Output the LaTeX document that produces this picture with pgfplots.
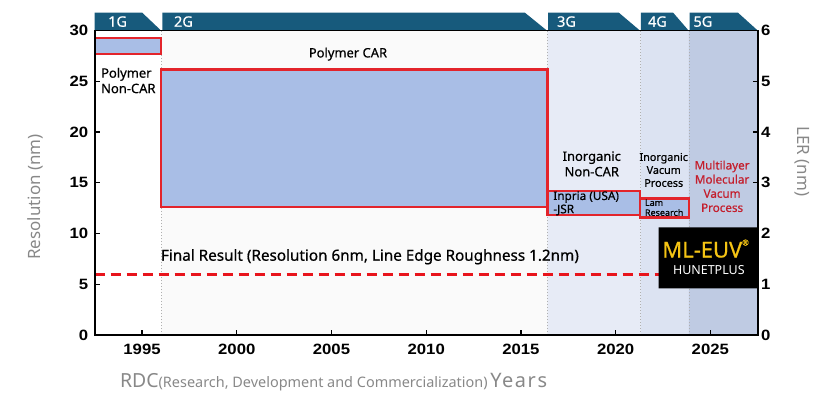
\documentclass[border=0pt]{standalone}
\usepackage{pgfplots}
\pgfplotsset{compat=1.18}
\usepackage{fontspec}
\setmainfont{Noto Sans}
\newfontfamily\medfont[FakeBold=0.6]{Noto Sans}
\newfontfamily\tickfont[FakeStretch=1.12]{Liberation Sans}
\definecolor{hdr}{HTML}{175A7C}
\definecolor{boxred}{HTML}{E3242B}
\definecolor{boxfill}{HTML}{A9BEE6}
\definecolor{bgtwo}{HTML}{FAFAFA}
\definecolor{bgthree}{HTML}{E7EBF6}
\definecolor{bgfour}{HTML}{DCE3F2}
\definecolor{bgfive}{HTML}{BFCBE3}
\definecolor{dotgray}{HTML}{B0B0B0}
\definecolor{dashred}{HTML}{E8141C}
\definecolor{txtred}{HTML}{C41E2C}
\definecolor{labgray}{HTML}{888888}
\definecolor{gold}{HTML}{F5C414}
\begin{document}
\begin{tikzpicture}
\useasboundingbox (0,0) rectangle (819bp,399bp);
\begin{axis}[
  at={(94.7bp,64bp)}, anchor=south west,
  scale only axis, width=663bp, height=304.5bp,
  xmin=1992.5, xmax=2027.5, ymin=0, ymax=30,
  clip=false, axis on top,
  axis line style={line width=1.6bp, black},
  xtick={1995,2000,...,2025}, ytick={0,5,...,30},
  xtick pos=left, ytick pos=left,
  tick align=inside, major tick length=5bp,
  tick style={line width=1.3bp, black},
  ticklabel style={font=\tickfont\bfseries\fontsize{15}{15}\selectfont},
  xticklabel style={yshift=-6bp},
  yticklabel style={xshift=-3bp},
  /pgf/number format/assume math mode=true,
  /pgf/number format/1000 sep={},
  ylabel={Resolution (nm)},
  ylabel style={at={(rel axis cs:-0.089,0.453)}, anchor=center, font=\fontsize{17}{17}\selectfont, text=labgray},
  xlabel={{\fontsize{19.5}{19.5}\selectfont RDC}{\fontsize{14.5}{14.5}\selectfont(Research, Development and Commercialization)} {\fontsize{20}{20}\selectfont\addfontfeature{LetterSpace=8}Years}},
  xlabel style={at={(rel axis cs:0.038,-0.172)}, anchor=base west, text=labgray, inner sep=0pt},
]
% backgrounds
\addplot[draw=none, fill=bgtwo] coordinates {(1996,0) (2016.4,0) (2016.4,30) (1996,30) (1996,0)};
\addplot[draw=none, fill=bgthree] coordinates {(2016.4,0) (2021.3,0) (2021.3,30) (2016.4,30) (2016.4,0)};
\addplot[draw=none, fill=bgfour] coordinates {(2021.3,0) (2023.87,0) (2023.87,30) (2021.3,30) (2021.3,0)};
\addplot[draw=none, fill=bgfive] coordinates {(2023.87,0) (2027.5,0) (2027.5,30) (2023.87,30) (2023.87,0)};
% boundaries
\addplot[dotgray, line width=0.8bp, dash pattern=on 1.2bp off 1.8bp] coordinates {(1996,0) (1996,30)};
\addplot[dotgray, line width=0.8bp, dash pattern=on 1.2bp off 1.8bp] coordinates {(2016.4,0) (2016.4,30)};
\addplot[dotgray, line width=0.8bp, dash pattern=on 1.2bp off 1.8bp] coordinates {(2021.3,0) (2021.3,30)};
\addplot[dotgray, line width=0.8bp, dash pattern=on 1.2bp off 1.8bp] coordinates {(2023.87,0) (2023.87,30)};
% resist boxes: fills
\addplot[draw=none, fill=boxfill] coordinates {(1992.5,27.7) (1996,27.7) (1996,29.3) (1992.5,29.3) (1992.5,27.7)};
\addplot[draw=none, fill=boxfill] coordinates {(1996,12.6) (2016.4,12.6) (2016.4,26.15) (1996,26.15) (1996,12.6)};
\addplot[draw=none, fill=boxfill] coordinates {(2016.4,11.8) (2021.3,11.8) (2021.3,14.16) (2016.4,14.16) (2016.4,11.8)};
\addplot[draw=none, fill=boxfill] coordinates {(2021.3,11.57) (2023.87,11.57) (2023.87,13.44) (2021.3,13.44) (2021.3,11.57)};
% final result
\addplot[dashred, line width=3bp, dash pattern=on 10bp off 6bp] coordinates {(1992.5,6) (2022.27,6)};
\addplot[draw=none, fill=black] coordinates {(2022.27,4.6) (2027.5,4.6) (2027.5,10.6) (2022.27,10.6) (2022.27,4.6)};
% header tabs
\addplot[draw=none, fill=hdr] coordinates {(1992.5,30) (1992.5,31.77) (1995.0,31.77) (1996.0,30) (1992.5,30)};
\addplot[draw=none, fill=hdr] coordinates {(1996.07,30) (1996.07,31.77) (2015.2,31.77) (2016.37,30) (1996.07,30)};
\addplot[draw=none, fill=hdr] coordinates {(2016.43,30) (2016.43,31.77) (2020.16,31.77) (2021.28,30) (2016.43,30)};
\addplot[draw=none, fill=hdr] coordinates {(2021.33,30) (2021.33,31.77) (2023.03,31.77) (2023.85,30) (2021.33,30)};
\addplot[draw=none, fill=hdr] coordinates {(2023.9,30) (2023.9,31.77) (2026.45,31.77) (2027.5,30) (2023.9,30)};
% resist boxes: outlines
\addplot[boxred, line width=2.2bp, line cap=rect] coordinates {(1992.5,27.7) (1996,27.7)};
\addplot[boxred, line width=2.2bp, line cap=rect] coordinates {(1996,27.7) (1996,29.3)};
\addplot[boxred, line width=2.2bp, line cap=rect] coordinates {(1996,29.3) (1992.5,29.3)};
\addplot[boxred, line width=2.2bp, line cap=rect] coordinates {(1996,12.6) (2016.4,12.6)};
\addplot[boxred, line width=2.2bp, line cap=rect] coordinates {(2016.4,12.6) (2016.4,26.15)};
\addplot[boxred, line width=2.2bp, line cap=rect] coordinates {(2016.4,26.15) (1996,26.15)};
\addplot[boxred, line width=2.2bp, line cap=rect] coordinates {(1996,26.15) (1996,12.6)};
\addplot[boxred, line width=2.2bp, line cap=rect] coordinates {(2016.4,11.8) (2021.3,11.8)};
\addplot[boxred, line width=2.2bp, line cap=rect] coordinates {(2021.3,11.8) (2021.3,14.16)};
\addplot[boxred, line width=2.2bp, line cap=rect] coordinates {(2021.3,14.16) (2016.4,14.16)};
\addplot[boxred, line width=2.2bp, line cap=rect] coordinates {(2016.4,14.16) (2016.4,11.8)};
\addplot[boxred, line width=2.2bp, line cap=rect] coordinates {(2021.3,11.57) (2023.87,11.57)};
\addplot[boxred, line width=2.2bp, line cap=rect] coordinates {(2023.87,11.57) (2023.87,13.44)};
\addplot[boxred, line width=2.2bp, line cap=rect] coordinates {(2023.87,13.44) (2021.3,13.44)};
\addplot[boxred, line width=2.2bp, line cap=rect] coordinates {(2021.3,13.44) (2021.3,11.57)};
\begin{scope}[every node/.style={inner sep=0pt, text=white, anchor=west, font=\medfont\fontsize{14.5}{14.5}\selectfont}]
\node at (axis cs:1993.2,30.88) {1G};
\node at (axis cs:1996.68,30.88) {2G};
\node at (axis cs:2016.9,30.88) {3G};
\node at (axis cs:2021.7,30.88) {4G};
\node at (axis cs:2024.1,30.88) {5G};
\end{scope}
% texts
\node[inner sep=0pt, font=\medfont\fontsize{13}{13}\selectfont] at (axis cs:2005.87,27.68) {Polymer CAR};
\node[inner sep=0pt, anchor=west, align=left, font=\medfont\fontsize{13}{15.5}\selectfont] at (axis cs:1992.83,25.07) {Polymer\\Non-CAR};
\node[inner sep=0pt, font=\medfont\fontsize{15.3}{15.3}\selectfont] at (axis cs:2007.03,7.71) {Final Result (Resolution 6nm, Line Edge Roughness 1.2nm)};
\node[inner sep=0pt, align=center, font=\medfont\fontsize{13}{15.5}\selectfont] at (axis cs:2018.74,16.86) {Inorganic\\Non-CAR};
\node[inner sep=0pt, anchor=west, align=left, font=\medfont\fontsize{11.8}{13.3}\selectfont] at (axis cs:2016.7,12.97) {Inpria (USA)\\-JSR};
\node[inner sep=0pt, align=center, font=\medfont\fontsize{10.8}{13}\selectfont] at (axis cs:2022.54,16.26) {Inorganic\\Vacum\\Process};
\node[inner sep=0pt, anchor=west, align=left, font=\medfont\fontsize{9}{10}\selectfont] at (axis cs:2021.54,12.54) {Lam\\Research};
\node[inner sep=0pt, align=center, text=txtred, font=\medfont\fontsize{11.7}{14.2}\selectfont] at (axis cs:2025.62,14.65) {Multilayer\\Molecular\\Vacum\\Process};
\node[inner sep=0pt, text=gold, font=\medfont\fontsize{22}{22}\selectfont] at (axis cs:2024.75,8.5) {ML-EUV\raisebox{0.55em}{\fontsize{8}{8}\selectfont\textregistered}};
\node[inner sep=0pt, text=white, font=\bfseries\fontsize{12.5}{12.5}\selectfont] at (axis cs:2024.92,6.4) {HUNETPLUS};
\end{axis}
\begin{axis}[
  at={(94.7bp,64bp)}, anchor=south west,
  scale only axis, width=663bp, height=304.5bp,
  xmin=1992.5, xmax=2027.5, ymin=0, ymax=6,
  axis y line*=right, axis x line=none,
  axis line style={line width=1.6bp, black},
  ytick={0,1,...,6},
  tick align=inside, major tick length=5bp,
  tick style={line width=1.3bp, black},
  ticklabel style={font=\tickfont\bfseries\fontsize{15}{15}\selectfont},
  /pgf/number format/assume math mode=true,
  ylabel={LER (nm)},
  ylabel style={at={(rel axis cs:1.067,0.57)}, anchor=center, rotate=180, font=\fontsize{17}{17}\selectfont, text=labgray},
]
\end{axis}
\end{tikzpicture}
\end{document}
